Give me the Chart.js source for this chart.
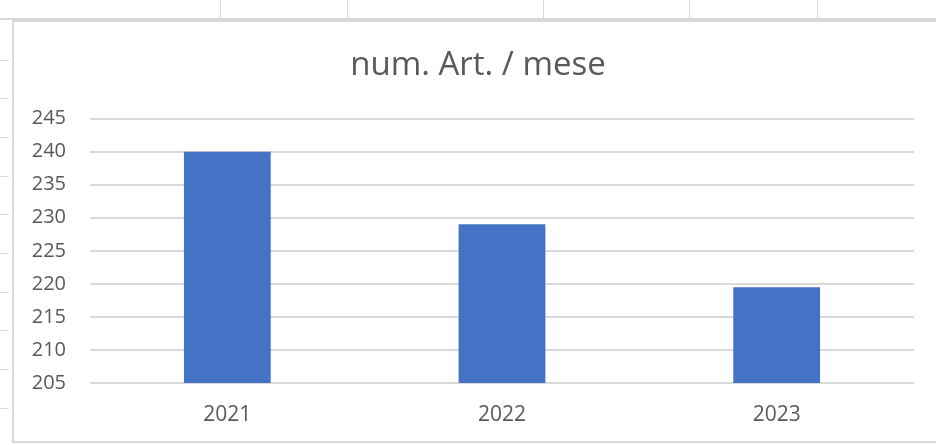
<!DOCTYPE html>
<html>
<head>
<meta charset="utf-8">
<script src="https://cdn.jsdelivr.net/npm/chart.js@4"></script>
<style>
  html, body { margin: 0; padding: 0; background: #fff; }
  body { width: 936px; height: 445px; position: relative; overflow: hidden; }
  #wrap { position: absolute; left: 0; top: 0; width: 936px; height: 445px; }
  .sheet { position: absolute; background: #d9d9d9; }
  #frame { position: absolute; left: 12px; top: 20px; width: 940px; height: 423px;
           border: 2px solid #d9d9d9; box-sizing: border-box; }
</style>
</head>
<body>
<div id="sheet"></div>
<div id="frame"></div>
<div id="wrap"><canvas id="chart" width="936" height="445"></canvas></div>
<script>
const categories = ['2021', '2022', '2023'];
const values = [240, 229, 219.5];
const yTicks = [205, 210, 215, 220, 225, 230, 235, 240, 245];
const title = 'num. Art. / mese';

// bits of the spreadsheet behind the chart
const sheet = document.getElementById('sheet');
[220, 347, 543, 689, 817].forEach(x => {
  sheet.innerHTML += `<div class="sheet" style="left:${x}px;top:0;width:1px;height:19px"></div>`;
});
sheet.innerHTML += `<div class="sheet" style="left:0;top:18px;width:936px;height:2px"></div>`;
[60, 98, 137, 176, 214, 253, 292, 330, 369, 408].forEach(y => {
  sheet.innerHTML += `<div class="sheet" style="left:0;top:${y}px;width:9px;height:1px"></div>`;
});

const font = "'Open Sans', 'Liberation Sans', sans-serif";

// the original chart runs past the right edge, so its title sits right of centre
const shiftTitle = {
  id: 'shiftTitle',
  afterLayout(chart) {
    if (chart.titleBlock) {
      chart.titleBlock.left += 14;
      chart.titleBlock.right += 14;
    }
  }
};

new Chart(document.getElementById('chart'), {
  type: 'bar',
  data: {
    labels: categories,
    datasets: [{
      data: values,
      backgroundColor: '#4472c4',
      borderWidth: 0,
      categoryPercentage: 1,
      barPercentage: 0.316
    }]
  },
  options: {
    responsive: false,
    animation: false,
    layout: { padding: { left: 14, right: 22, top: 20, bottom: 0 } },
    plugins: {
      legend: { display: false },
      tooltip: { enabled: false },
      title: {
        display: true,
        text: title,
        color: '#595959',
        font: { family: font, size: 33, weight: 'normal', lineHeight: 1.2 },
        padding: { top: 26, bottom: 33 }
      }
    },
    scales: {
      x: {
        grid: { display: false, drawTicks: false },
        border: { display: false },
        ticks: {
          color: '#595959',
          font: { family: font, size: 21 },
          padding: 19
        },
        afterFit: s => { s.height = 62; }
      },
      y: {
        min: 205,
        max: 245,
        afterBuildTicks: s => { s.ticks = yTicks.map(v => ({ value: v })); },
        grid: { color: '#d9d9d9', lineWidth: 2, drawTicks: false },
        border: { display: false },
        ticks: {
          color: '#595959',
          font: { family: font, size: 20 },
          padding: 24
        },
        afterFit: s => { s.width = 76; }
      }
    }
  },
  plugins: [shiftTitle]
});
</script>
</body>
</html>
